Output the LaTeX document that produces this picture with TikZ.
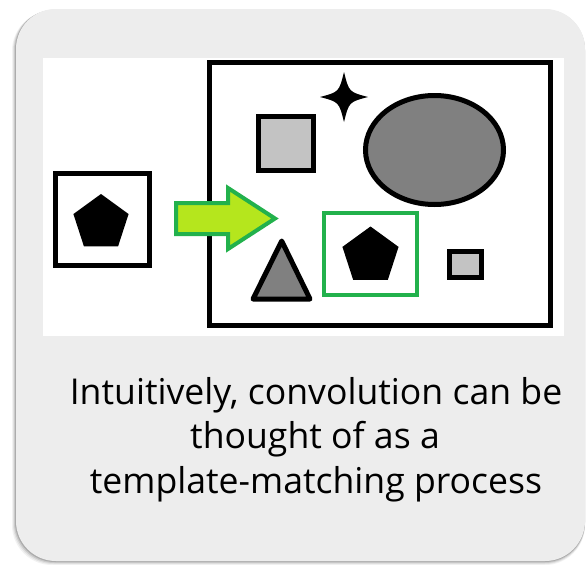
\documentclass[tikz,border=0pt]{standalone}
\usepackage{fontspec}
\setmainfont{Open Sans}[Ligatures=NoCommon]
\usetikzlibrary{shapes.geometric,calc}
\definecolor{panel}{HTML}{EDEDED}
\definecolor{lgray}{HTML}{C3C3C3}
\definecolor{dgray}{HTML}{808080}
\definecolor{gline}{HTML}{22B14C}
\definecolor{gfill}{HTML}{B5E61D}
\tikzset{
  blk/.style={draw=black, line width=5pt},
  txt/.style={anchor=base, inner sep=0pt, font=\fontsize{35.6}{42}\selectfont},
}
\begin{document}
\begin{tikzpicture}[x=1pt,y=-1pt]
\useasboundingbox (0,0) rectangle (587,565);
% shadow
\foreach \o/\a in {4/0.05,3/0.07,2/0.1,1/0.15}{
  \fill[black,opacity=\a,rounded corners=40pt] (16-\o,9+\o*0.5) rectangle (585,561+\o);
}
\fill[panel,rounded corners=40pt] (16,9) rectangle (585,561);
% white picture area
\fill[white] (43,58) rectangle (564,336);
% big frame
\draw[blk] (209.5,62.5) rectangle (550.5,325.5);
% star
\fill[black] (344,72) .. controls (349,92) .. (368,97) .. controls (349,102) .. (344,122)
  .. controls (339,102) .. (320,97) .. controls (339,92) .. cycle;
% gray square
\draw[blk, fill=lgray] (258.5,116.5) rectangle (313.5,170.5);
% ellipse
\draw[blk, fill=dgray] (434.5,150) ellipse [x radius=69, y radius=54.5];
% triangle
\draw[blk, fill=dgray, line join=round] (281.7,241) -- (310,299) -- (253,299) -- cycle;
% small square
\draw[blk, fill=lgray] (449.5,251.5) rectangle (481.5,277.5);
% green match box
\draw[gline, line width=4pt] (323.5,212.5) rectangle (416.5,295);
% pentagon in scene
\coordinate (pc) at (370.5,256);
\fill[black] ($(pc)+(-90:29.5)$) -- ($(pc)+(-18:29.5)$) -- ($(pc)+(54:29.5)$)
  -- ($(pc)+(126:29.5)$) -- ($(pc)+(198:29.5)$) -- cycle;
% template box
\draw[blk] (55.2,173.2) rectangle (149.5,265.8);
\coordinate (tc) at (101,223);
\fill[black] ($(tc)+(-90:29)$) -- ($(tc)+(-18:29)$) -- ($(tc)+(54:29)$)
  -- ($(tc)+(126:29)$) -- ($(tc)+(198:29)$) -- cycle;
% arrow
\draw[gline, fill=gfill, line width=4pt, line join=miter]
  (176,203) -- (228,203) -- (228,188) -- (275,218.5) -- (228,249) -- (228,234) -- (176,234) -- cycle;
% caption
\node[txt] (t1) at (316,404) {Intuitively, convolution can be};
\node[txt] (t2) at (315,448) {thought of as a};
\node[txt] (t3) at (316,493) {template-matching process};
\end{tikzpicture}
\end{document}
